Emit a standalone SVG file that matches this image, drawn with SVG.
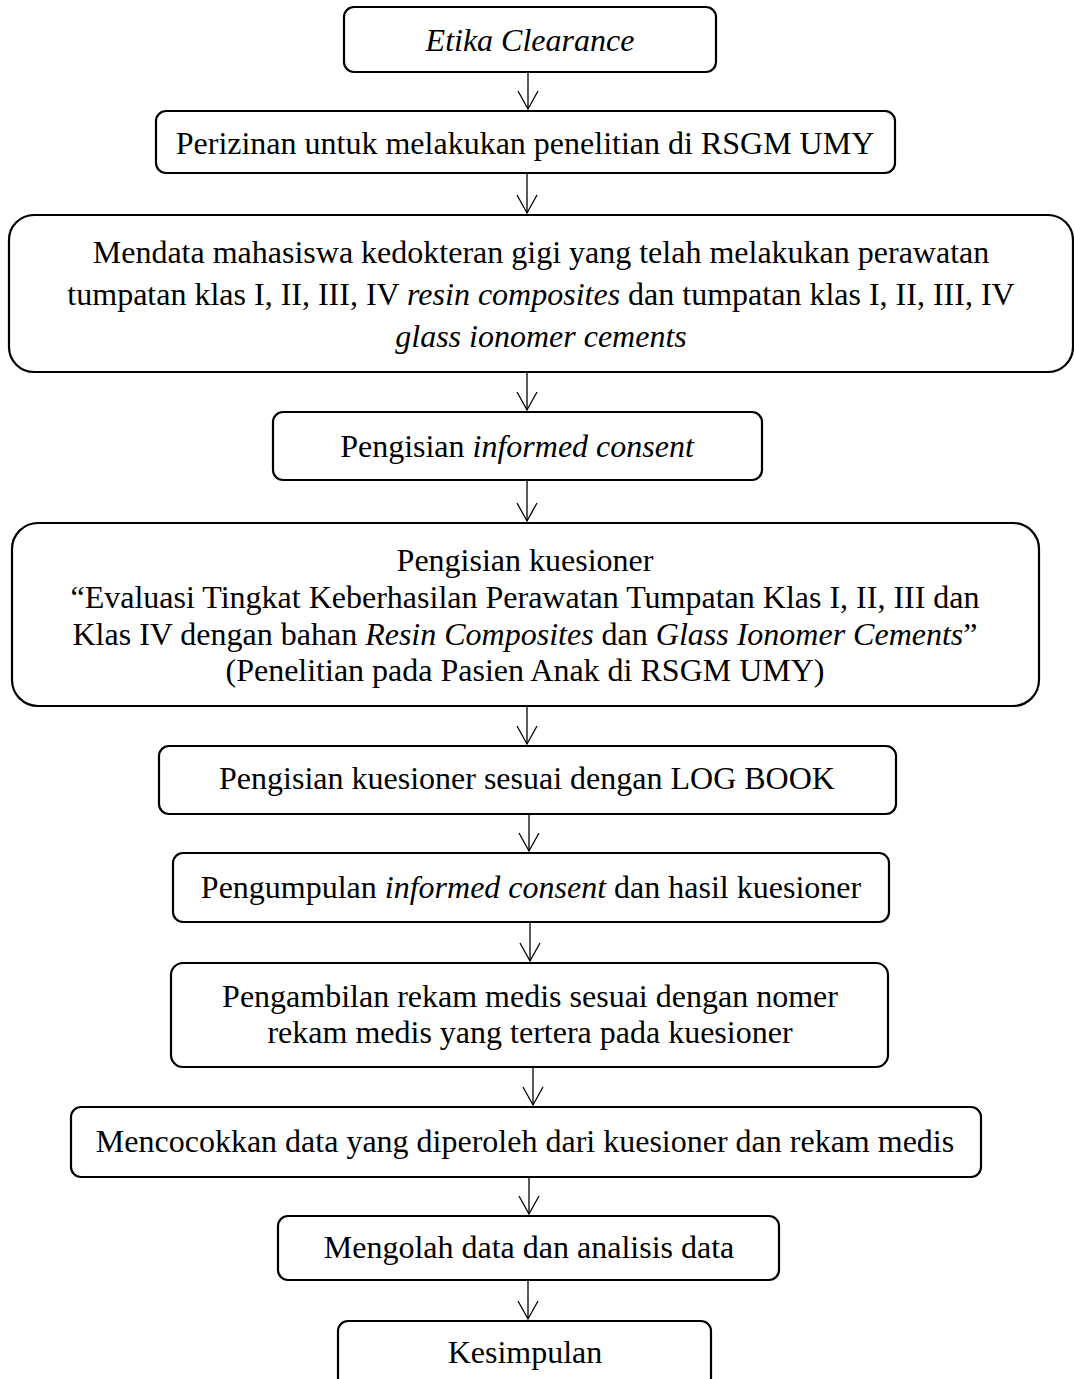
<svg xmlns="http://www.w3.org/2000/svg" width="1074" height="1379" viewBox="0 0 1074 1379">
<style>
  .box { fill: #ffffff; stroke: #000000; stroke-width: 2.2; }
  .t { font-family: "Liberation Serif", "Times New Roman", serif; font-size: 32px; fill: #000000; text-anchor: middle; }
  .i { font-style: italic; }
  .conn { stroke: #000000; stroke-width: 1.3; fill: none; marker-end: url(#arrow); }
</style>
<defs>
  <marker id="arrow" markerUnits="userSpaceOnUse" viewBox="-20 -12 22 24" markerWidth="22" markerHeight="24" refX="0" refY="0" orient="auto" overflow="visible">
    <path d="M-18,-10 L0,0 L-18,10" fill="none" stroke="#000000" stroke-width="1.3"/>
  </marker>
</defs>
<rect width="1074" height="1379" fill="#ffffff"/>

<g id="connectors">
  <line class="conn" x1="528" y1="72" x2="528" y2="109"/>
  <line class="conn" x1="527" y1="173" x2="527" y2="213"/>
  <line class="conn" x1="527" y1="372" x2="527" y2="410"/>
  <line class="conn" x1="527" y1="480" x2="527" y2="521"/>
  <line class="conn" x1="527" y1="706" x2="527" y2="744"/>
  <line class="conn" x1="529" y1="814" x2="529" y2="851"/>
  <line class="conn" x1="530" y1="922" x2="530" y2="961"/>
  <line class="conn" x1="533" y1="1067" x2="533" y2="1105"/>
  <line class="conn" x1="529" y1="1177" x2="529" y2="1214"/>
  <line class="conn" x1="528" y1="1280" x2="528" y2="1319"/>
</g>

<g id="n1">
  <rect class="box" x="344" y="7" width="372" height="65" rx="10"/>
  <text class="t i" x="530" y="51">Etika Clearance</text>
</g>
<g id="n2">
  <rect class="box" x="156" y="111" width="739" height="62" rx="10"/>
  <text class="t" x="525" y="154">Perizinan untuk melakukan penelitian di RSGM UMY</text>
</g>
<g id="n3">
  <rect class="box" x="9" y="215" width="1064" height="157" rx="25"/>
  <text class="t" x="541" y="263">Mendata mahasiswa kedokteran gigi yang telah melakukan perawatan</text>
  <text class="t" x="541" y="305">tumpatan klas I, II, III, IV <tspan class="i">resin composites</tspan> dan tumpatan klas I, II, III, IV</text>
  <text class="t i" x="541" y="347">glass ionomer cements</text>
</g>
<g id="n4">
  <rect class="box" x="273" y="412" width="489" height="68" rx="10"/>
  <text class="t" x="517" y="457">Pengisian <tspan class="i">informed consent</tspan></text>
</g>
<g id="n5">
  <rect class="box" x="12" y="523" width="1027" height="183" rx="26"/>
  <text class="t" x="525" y="571">Pengisian kuesioner</text>
  <text class="t" x="525" y="608">“Evaluasi Tingkat Keberhasilan Perawatan Tumpatan Klas I, II, III dan</text>
  <text class="t" x="525" y="645">Klas IV dengan bahan <tspan class="i">Resin Composites</tspan> dan <tspan class="i">Glass Ionomer Cements</tspan>”</text>
  <text class="t" x="525" y="681">(Penelitian pada Pasien Anak di RSGM UMY)</text>
</g>
<g id="n6">
  <rect class="box" x="159" y="746" width="737" height="68" rx="10"/>
  <text class="t" x="527" y="789">Pengisian kuesioner sesuai dengan LOG BOOK</text>
</g>
<g id="n7">
  <rect class="box" x="173" y="853" width="716" height="69" rx="10"/>
  <text class="t" x="531" y="898">Pengumpulan <tspan class="i">informed consent</tspan> dan hasil kuesioner</text>
</g>
<g id="n8">
  <rect class="box" x="171" y="963" width="717" height="104" rx="12"/>
  <text class="t" x="530" y="1007">Pengambilan rekam medis sesuai dengan nomer</text>
  <text class="t" x="530" y="1043">rekam medis yang tertera pada kuesioner</text>
</g>
<g id="n9">
  <rect class="box" x="71" y="1107" width="910" height="70" rx="10"/>
  <text class="t" x="525" y="1152">Mencocokkan data yang diperoleh dari kuesioner dan rekam medis</text>
</g>
<g id="n10">
  <rect class="box" x="278" y="1216" width="501" height="64" rx="10"/>
  <text class="t" x="529" y="1258">Mengolah data dan analisis data</text>
</g>
<g id="n11">
  <rect class="box" x="338" y="1321" width="373" height="80" rx="10"/>
  <text class="t" x="525" y="1363">Kesimpulan</text>
</g>
</svg>
